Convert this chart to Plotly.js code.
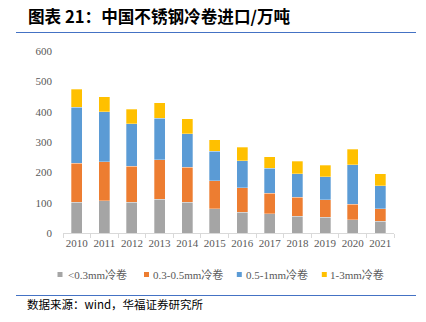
<!DOCTYPE html>
<html><head><meta charset="utf-8">
<script src="https://cdn.plot.ly/plotly-3.0.1.min.js"></script>
<style>body{margin:0;background:#fff}#c{width:426px;height:322px}</style>
</head><body><div id="c"></div>
<script>
const years = ['2010','2011','2012','2013','2014','2015','2016','2017','2018','2019','2020','2021'];
const lt03 = [102,106,102,112,101,80,69,63,56,52,44,38];
const s03_05 = [128,129,118,130,115,92,81,68,62,58,51,42];
const s05_1 = [185,165,141,136,111,97,89,82,78,76,130,75];
const s1_3 = [59,49,47,52,50,38,43,39,40,37,51,40];
const names = ['<0.3mm冷卷','0.3-0.5mm冷卷','0.5-1mm冷卷','1-3mm冷卷'];
const colors = ['#A5A5A5','#ED7D31','#5B9BD5','#FFC000'];
const series = [lt03, s03_05, s05_1, s1_3];
const traces = series.map((v,i)=>({type:'bar', x:years, y:v, name:names[i], showlegend:false,
  marker:{color:colors[i], line:{color:'rgba(255,255,255,0.6)', width:0.5}}, hoverinfo:'skip'}));

// legend drawn as squares + text (paper coords)
const L=63, W=331, B=233, H=182;
const px = x => (x - L) / W, py = y => (B - y) / H;
const legSq = [57.5, 144, 236.8, 321.8];
const legTx = [66.5, 152, 244.5, 329];
const legY = 274.5;
const shapes = [
  {type:'line', xref:'paper', yref:'paper', x0:px(16), x1:px(416), y0:py(32.5), y1:py(32.5), line:{color:'#4472C4', width:1}},
  {type:'line', xref:'paper', yref:'paper', x0:px(16), x1:px(416), y0:py(295.5), y1:py(295.5), line:{color:'#4472C4', width:1}}
];
const annotations = [
  {xref:'paper', yref:'paper', x:px(26), y:py(16), xanchor:'left', yanchor:'middle', showarrow:false,
   text:'<b>图表 21：中国不锈钢冷卷进口/万吨</b>', font:{family:'"Noto Sans CJK SC", sans-serif', size:16.6, color:'#000'}},
  {xref:'paper', yref:'paper', x:px(25), y:py(304), xanchor:'left', yanchor:'middle', showarrow:false,
   text:'数据来源：wind，华福证券研究所', font:{family:'"Noto Sans CJK SC", sans-serif', size:11.5, color:'#000'}}
];
names.forEach((n,i)=>{
  shapes.push({type:'rect', xref:'paper', yref:'paper', x0:px(legSq[i]), x1:px(legSq[i]+5), y0:py(legY-2.5), y1:py(legY+2.5),
    fillcolor:colors[i], line:{width:0}});
  annotations.push({xref:'paper', yref:'paper', x:px(legTx[i]), y:py(legY), xanchor:'left', yanchor:'middle', showarrow:false,
    xshift:-1, text:n, font:{family:'Liberation Serif, "Noto Sans CJK SC", serif', size:11, color:'#595959'}});
});
const layout = {
  width:426, height:322, barmode:'stack', bargap:0.6,
  margin:{l:L,r:426-L-W,t:B-H,b:322-B},
  paper_bgcolor:'#fff', plot_bgcolor:'#fff',
  font:{family:'Liberation Serif, "Noto Sans CJK SC", serif', color:'#595959', size:11},
  xaxis:{type:'category', showline:true, linecolor:'#D9D9D9', linewidth:1, tickangle:0,
    ticks:'outside', tickson:'boundaries', ticklen:4, tickcolor:'#D9D9D9',
    tickfont:{size:11, color:'#595959'}, showgrid:false},
  yaxis:{range:[0,600], dtick:100, showgrid:false, zeroline:false, showline:false,
    tickfont:{size:11, color:'#595959'}, ticklabelstandoff:10},
  showlegend:false,
  shapes:shapes, annotations:annotations
};
Plotly.newPlot('c', traces, layout, {displayModeBar:false, staticPlot:true});
</script></body></html>
